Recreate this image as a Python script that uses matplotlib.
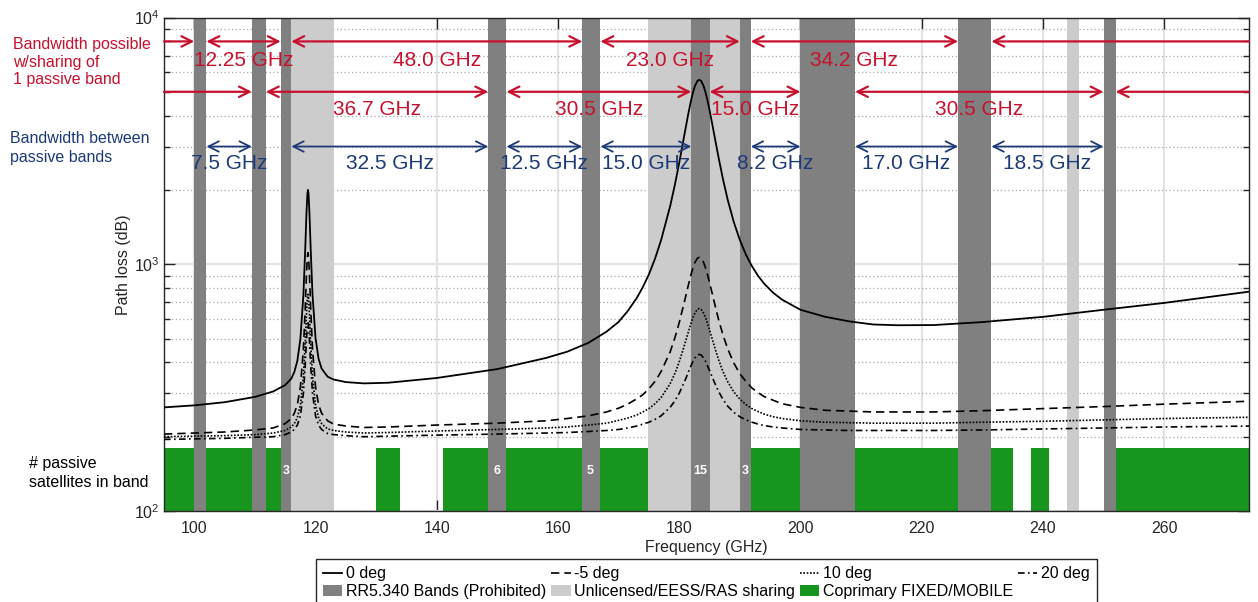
import numpy as np
import matplotlib
matplotlib.use('Agg')
import matplotlib.pyplot as plt
from matplotlib.lines import Line2D
from matplotlib.patches import Patch
from matplotlib.ticker import LogLocator, NullFormatter, MultipleLocator

plt.rcParams['font.family'] = ['Liberation Sans', 'DejaVu Sans']
plt.rcParams['mathtext.default'] = 'regular'

# frequency samples (GHz) and path loss for each elevation
freq = [95, 100, 105, 110, 113, 115, 116, 116.5, 117, 117.5,
        118, 118.3, 118.5, 118.65, 118.75, 118.85, 119, 119.2, 119.5, 120,
        120.5, 121, 122, 123, 125, 128, 132, 140, 150, 158,
        161.5, 165, 168, 170, 171.5, 173, 174, 175, 176, 177,
        178.5, 179.3, 180, 181, 181.5, 182, 182.3, 182.6, 183.0, 183.3,
        183.6, 184, 184.3, 184.6, 185, 185.5, 186, 186.5, 187.2, 188,
        189, 190, 191, 192, 193, 194, 195.5, 197, 200, 204,
        208, 212, 216, 222, 230, 240, 250, 260, 275]
loss_0 = [263, 268, 276, 290, 305, 324, 344, 366, 406, 498,
          753, 1152, 1601, 1922, 2002, 1922, 1601, 1152, 753, 502,
          414, 378, 350, 341, 333, 329, 331, 346, 376, 417,
          442, 480, 533, 584, 646, 730, 808, 910, 1052, 1250,
          1718, 2109, 2578, 3502, 4075, 4671, 5002, 5283, 5533, 5592,
          5538, 5294, 5017, 4690, 4218, 3641, 3130, 2700, 2221, 1824,
          1483, 1255, 1094, 982, 898, 835, 766, 718, 654, 613,
          587, 570, 566, 567, 583, 612, 654, 697, 780]
loss_m5 = [205, 207, 209, 213, 217, 226, 237, 249, 270, 318,
           453, 664, 902, 1072, 1114, 1072, 902, 664, 453, 318,
           270, 249, 232, 225, 221, 218, 219, 223, 227, 232,
           237, 243, 252, 261, 271, 285, 296, 313, 335, 367,
           441, 505, 580, 729, 822, 918, 973, 1018, 1058, 1067,
           1059, 1019, 974, 920, 844, 750, 667, 596, 519, 454,
           398, 360, 335, 315, 302, 291, 281, 272, 263, 256,
           254, 252, 252, 252, 255, 260, 265, 271, 279]
loss_10 = [200, 201, 202, 204, 207, 212, 219, 226, 239, 268,
           351, 480, 625, 729, 755, 729, 625, 480, 351, 268,
           239, 226, 215, 212, 209, 207, 208, 211, 214, 217,
           219, 223, 227, 233, 238, 245, 252, 260, 272, 288,
           328, 362, 402, 482, 531, 582, 611, 635, 656, 661,
           656, 635, 612, 582, 542, 492, 448, 410, 368, 334,
           304, 284, 270, 260, 253, 247, 241, 237, 232, 229,
           228, 227, 227, 227, 229, 231, 234, 237, 240]
loss_20 = [195, 196, 197, 199, 200, 204, 209, 214, 223, 243,
           300, 389, 489, 561, 579, 561, 489, 389, 300, 243,
           223, 214, 206, 204, 202, 200, 201, 203, 205, 207,
           208, 210, 212, 214, 217, 221, 225, 229, 235, 243,
           263, 280, 300, 340, 365, 391, 406, 418, 429, 431,
           429, 418, 406, 391, 371, 346, 324, 305, 284, 266,
           251, 241, 234, 229, 225, 222, 219, 217, 214, 213,
           212, 212, 212, 212, 213, 215, 217, 219, 221]

# spectrum allocations (GHz)
prohibited = [(100, 102), (109.5, 111.8), (114.25, 116), (148.5, 151.5), (164, 167),
              (182, 185), (190, 191.8), (200, 209), (226, 231.5), (250, 252)]
sharing = [(116, 123), (174.8, 190), (244, 246)]
coprimary = [(95, 100), (102, 109.5), (111.8, 114.25), (130, 134), (141, 148.5),
             (151.5, 164), (167, 174.8), (191.8, 200), (209, 226), (231.5, 235),
             (238, 241), (252, 275)]
sat_freq = [115.1, 150, 165.3, 183.5, 190.9]
sat_count = ['3', '6', '5', '15', '3']

# bandwidth arrows
red_top_spans = [(95, 100), (102, 114.25), (116, 164), (167, 190), (191.8, 226), (231.5, 274)]
red_top_labels = ['', '12.25 GHz', '48.0 GHz', '23.0 GHz', '34.2 GHz', '']
red_mid_spans = [(95, 109.5), (111.8, 148.5), (151.5, 182), (185, 200), (209, 250), (252, 274)]
red_mid_labels = ['', '36.7 GHz', '30.5 GHz', '15.0 GHz', '30.5 GHz', '']
blue_spans = [(102, 109.5), (116, 148.5), (151.5, 164), (167, 182), (191.8, 200),
              (209, 226), (231.5, 250)]
blue_labels = ['7.5 GHz', '32.5 GHz', '12.5 GHz', '15.0 GHz', '8.2 GHz', '17.0 GHz', '18.5 GHz']

XMIN, XMAX = 95, 274
DARK = '#808080'
LIGHT = '#cccccc'
GREEN = '#18951e'
RED = '#c8102e'
BLUE = '#1c3a78'

fig = plt.figure(figsize=(12.58, 6.02), dpi=100)
ax = fig.add_axes([164 / 1258, 1 - 511 / 602, 1085 / 1258, 493.5 / 602])

for lo, hi in coprimary:
    ax.fill_between([lo, hi], 100, 180, color=GREEN, lw=0, zorder=1)
for lo, hi in sharing:
    ax.axvspan(lo, hi, color=LIGHT, lw=0, zorder=1.2)
for lo, hi in prohibited:
    ax.axvspan(lo, hi, color=DARK, lw=0, zorder=1.4)
for f, n in zip(sat_freq, sat_count):
    ax.text(f, 145, n, color='white', fontweight='bold', fontsize=9,
            ha='center', va='center', zorder=3)

ax.plot(freq, loss_0, color='k', lw=1.3, ls='-', zorder=4)
ax.plot(freq, loss_m5, color='k', lw=1.2, ls=(0, (5, 3)), zorder=4)
ax.plot(freq, loss_10, color='k', lw=1.2, ls=(0, (1, 1)), zorder=4)
ax.plot(freq, loss_20, color='k', lw=1.2, ls=(0, (4, 2, 1, 2)), zorder=4)


def draw_arrows(spans, labels, y_arrow, y_text, color, lw):
    for (lo, hi), lab in zip(spans, labels):
        style = '<->'
        if lo <= XMIN:
            style = '->'
        elif hi >= XMAX:
            style = '<-'
        ax.annotate('', xy=(hi, y_arrow), xytext=(lo, y_arrow),
                    arrowprops=dict(arrowstyle=style + ',head_length=0.5,head_width=0.25',
                                    color=color, lw=lw, shrinkA=0, shrinkB=0,
                                    mutation_scale=15),
                    zorder=5)
        if lab:
            ax.text((lo + hi) / 2, y_text, lab, color=color, fontsize=15,
                    ha='center', va='center', zorder=6)


draw_arrows(red_top_spans, red_top_labels, 8000, 6725, RED, 1.6)
draw_arrows(red_mid_spans, red_mid_labels, 5000, 4220, RED, 1.6)
draw_arrows(blue_spans, blue_labels, 3000, 2570, BLUE, 1.3)

ax.set_yscale('log')
ax.set_xlim(XMIN, XMAX)
ax.set_ylim(100, 10000)
ax.xaxis.set_major_locator(MultipleLocator(20))
ax.yaxis.set_major_locator(LogLocator(base=10))
ax.yaxis.set_minor_locator(LogLocator(base=10, subs=np.arange(2, 10)))
ax.yaxis.set_minor_formatter(NullFormatter())

ax.set_axisbelow(True)
ax.grid(which='major', axis='both', color='#e3e3e3', lw=1.5, ls='-')
ax.grid(which='minor', axis='y', color='#aaaaaa', lw=0.9, ls=(0, (1, 2)))

ax.tick_params(which='both', direction='in', top=True, right=True,
               colors='#262626', labelcolor='#262626', labelsize=11.5)
ax.tick_params(which='major', length=8, width=1)
ax.tick_params(which='minor', length=4.5, width=1)
ax.tick_params(axis='x', pad=7)
ax.tick_params(axis='y', pad=3)
for sp in ax.spines.values():
    sp.set_color('#262626')
    sp.set_linewidth(1)

ax.set_xlabel('Frequency (GHz)', fontsize=11.5, color='#262626', labelpad=3)
ax.set_ylabel('Path loss (dB)', fontsize=11.5, color='#262626', labelpad=2)

fig.text(0.0101, 0.897, 'Bandwidth possible\nw/sharing of\n1 passive band',
         color=RED, fontsize=11.5, ha='left', va='center', linespacing=1.22)
fig.text(0.008, 0.754, 'Bandwidth between\npassive bands',
         color=BLUE, fontsize=11.5, ha='left', va='center', linespacing=1.27)
fig.text(0.023, 0.2143, '# passive\nsatellites in band',
         color='k', fontsize=11.5, ha='left', va='center', linespacing=1.27)

# legend filled row by row: matplotlib fills columns, so interleave
h0 = Line2D([], [], color='k', lw=1.3, ls='-')
h5 = Line2D([], [], color='k', lw=1.2, ls=(0, (5, 3)))
h10 = Line2D([], [], color='k', lw=1.2, ls=(0, (1, 1)))
h20 = Line2D([], [], color='k', lw=1.2, ls=(0, (4, 2, 1, 2)))
p_dark = Patch(color=DARK, lw=0)
p_light = Patch(color=LIGHT, lw=0)
p_green = Patch(color=GREEN, lw=0)
handles = [h0, p_dark, h5, p_light, h10, p_green, h20]
labels = ['0 deg', 'RR5.340 Bands (Prohibited)', '-5 deg', 'Unlicensed/EESS/RAS sharing',
          '10 deg', 'Coprimary FIXED/MOBILE', '20 deg']
leg = fig.legend(handles, labels, ncol=4, loc='upper left',
                 bbox_to_anchor=(316 / 1258, 1 - 559 / 602), fontsize=11.5,
                 frameon=True, fancybox=False, edgecolor='#262626', framealpha=1,
                 borderpad=0.45, borderaxespad=0, columnspacing=0.35,
                 handlelength=1.2, handletextpad=0.2, labelspacing=0.2)
leg.get_frame().set_linewidth(1)

fig.savefig('out.png', dpi=100)
